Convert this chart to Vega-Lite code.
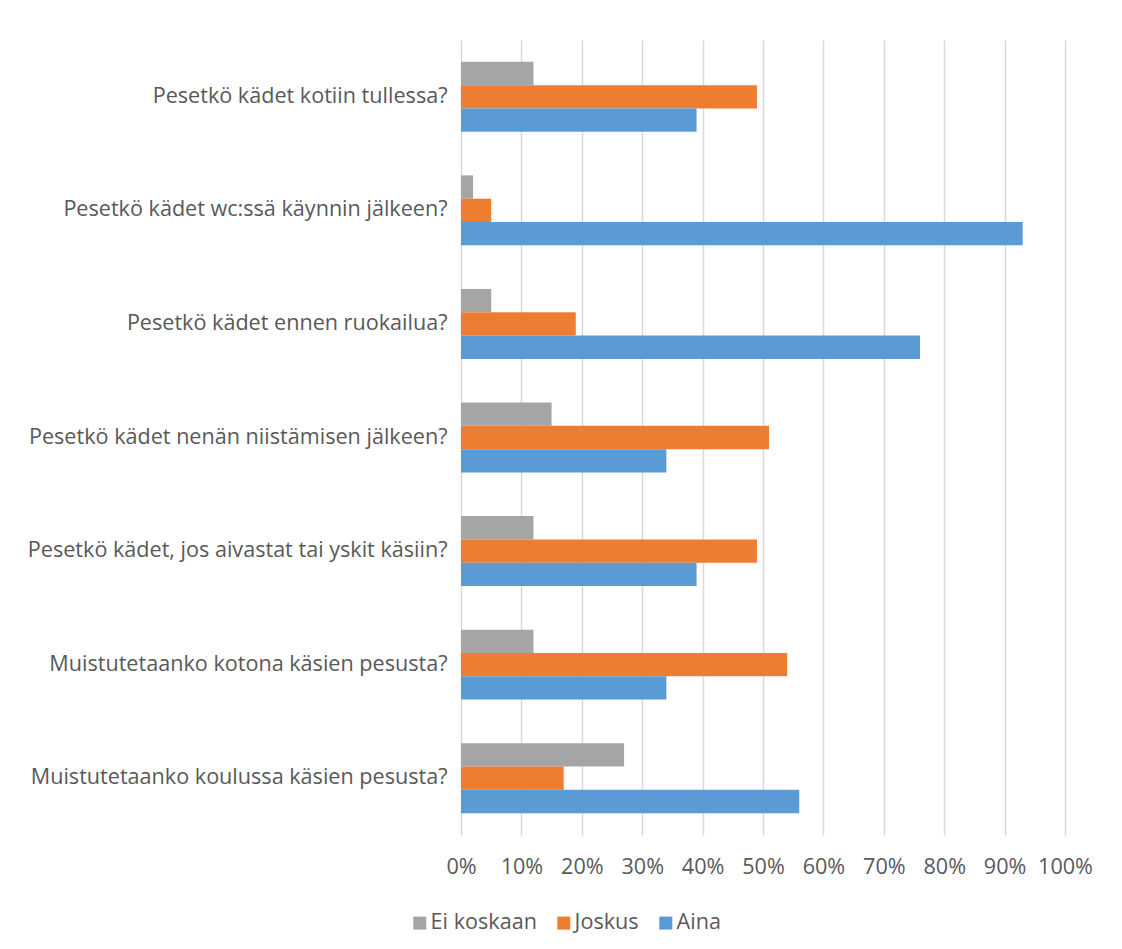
{
  "$schema": "https://vega.github.io/schema/vega-lite/v6.json",
  "width": 604,
  "height": 795,
  "autosize": {"type": "none"},
  "padding": {"left": 461, "top": 40, "right": 57, "bottom": 114},
  "background": "white",
  "data": {
    "values": [
      {"question": "Pesetkö kädet kotiin tullessa?", "series": "Ei koskaan", "value": 0.12},
      {"question": "Pesetkö kädet kotiin tullessa?", "series": "Joskus", "value": 0.49},
      {"question": "Pesetkö kädet kotiin tullessa?", "series": "Aina", "value": 0.39},
      {"question": "Pesetkö kädet wc:ssä käynnin jälkeen?", "series": "Ei koskaan", "value": 0.02},
      {"question": "Pesetkö kädet wc:ssä käynnin jälkeen?", "series": "Joskus", "value": 0.05},
      {"question": "Pesetkö kädet wc:ssä käynnin jälkeen?", "series": "Aina", "value": 0.93},
      {"question": "Pesetkö kädet ennen ruokailua?", "series": "Ei koskaan", "value": 0.05},
      {"question": "Pesetkö kädet ennen ruokailua?", "series": "Joskus", "value": 0.19},
      {"question": "Pesetkö kädet ennen ruokailua?", "series": "Aina", "value": 0.76},
      {"question": "Pesetkö kädet nenän niistämisen jälkeen?", "series": "Ei koskaan", "value": 0.15},
      {"question": "Pesetkö kädet nenän niistämisen jälkeen?", "series": "Joskus", "value": 0.51},
      {"question": "Pesetkö kädet nenän niistämisen jälkeen?", "series": "Aina", "value": 0.34},
      {"question": "Pesetkö kädet, jos aivastat tai yskit käsiin?", "series": "Ei koskaan", "value": 0.12},
      {"question": "Pesetkö kädet, jos aivastat tai yskit käsiin?", "series": "Joskus", "value": 0.49},
      {"question": "Pesetkö kädet, jos aivastat tai yskit käsiin?", "series": "Aina", "value": 0.39},
      {"question": "Muistutetaanko kotona käsien pesusta?", "series": "Ei koskaan", "value": 0.12},
      {"question": "Muistutetaanko kotona käsien pesusta?", "series": "Joskus", "value": 0.54},
      {"question": "Muistutetaanko kotona käsien pesusta?", "series": "Aina", "value": 0.34},
      {"question": "Muistutetaanko koulussa käsien pesusta?", "series": "Ei koskaan", "value": 0.27},
      {"question": "Muistutetaanko koulussa käsien pesusta?", "series": "Joskus", "value": 0.17},
      {"question": "Muistutetaanko koulussa käsien pesusta?", "series": "Aina", "value": 0.56}
    ]
  },
  "mark": {"type": "bar"},
  "encoding": {
    "y": {
      "field": "question",
      "type": "nominal",
      "sort": [
        "Pesetkö kädet kotiin tullessa?",
        "Pesetkö kädet wc:ssä käynnin jälkeen?",
        "Pesetkö kädet ennen ruokailua?",
        "Pesetkö kädet nenän niistämisen jälkeen?",
        "Pesetkö kädet, jos aivastat tai yskit käsiin?",
        "Muistutetaanko kotona käsien pesusta?",
        "Muistutetaanko koulussa käsien pesusta?"
      ],
      "scale": {"paddingInner": 0.384, "paddingOuter": 0.192},
      "axis": {
        "title": null,
        "domain": false,
        "ticks": false,
        "grid": false,
        "labelPadding": 14,
        "labelFont": "Open Sans",
        "labelFontSize": 21.6,
        "labelColor": "#595959",
        "labelLimit": 500
      }
    },
    "yOffset": {
      "field": "series",
      "type": "nominal",
      "sort": ["Ei koskaan", "Joskus", "Aina"],
      "scale": {"paddingInner": 0, "paddingOuter": 0}
    },
    "x": {
      "field": "value",
      "type": "quantitative",
      "scale": {"domain": [0, 1], "nice": false},
      "axis": {
        "title": null,
        "format": ".0%",
        "values": [0, 0.1, 0.2, 0.3, 0.4, 0.5, 0.6, 0.7, 0.8, 0.9, 1],
        "grid": true,
        "gridColor": "#D9D9D9",
        "gridWidth": 1.5,
        "domain": false,
        "ticks": false,
        "labelPadding": 21,
        "labelFont": "Open Sans",
        "labelFontSize": 21.6,
        "labelColor": "#595959",
        "labelFlush": false
      }
    },
    "color": {
      "field": "series",
      "type": "nominal",
      "sort": ["Ei koskaan", "Joskus", "Aina"],
      "scale": {"domain": ["Ei koskaan", "Joskus", "Aina"], "range": ["#A5A5A5", "#ED7D31", "#5B9BD5"]},
      "legend": {
        "title": null,
        "orient": "none",
        "direction": "horizontal",
        "legendX": -52,
        "legendY": 872,
        "symbolType": "square",
        "symbolSize": 169,
        "symbolStrokeWidth": 0,
        "labelFont": "Open Sans",
        "labelFontSize": 21.6,
        "labelColor": "#595959",
        "columnPadding": 16,
        "labelOffset": 0,
        "padding": 0
      }
    }
  },
  "config": {"view": {"stroke": null}}
}
